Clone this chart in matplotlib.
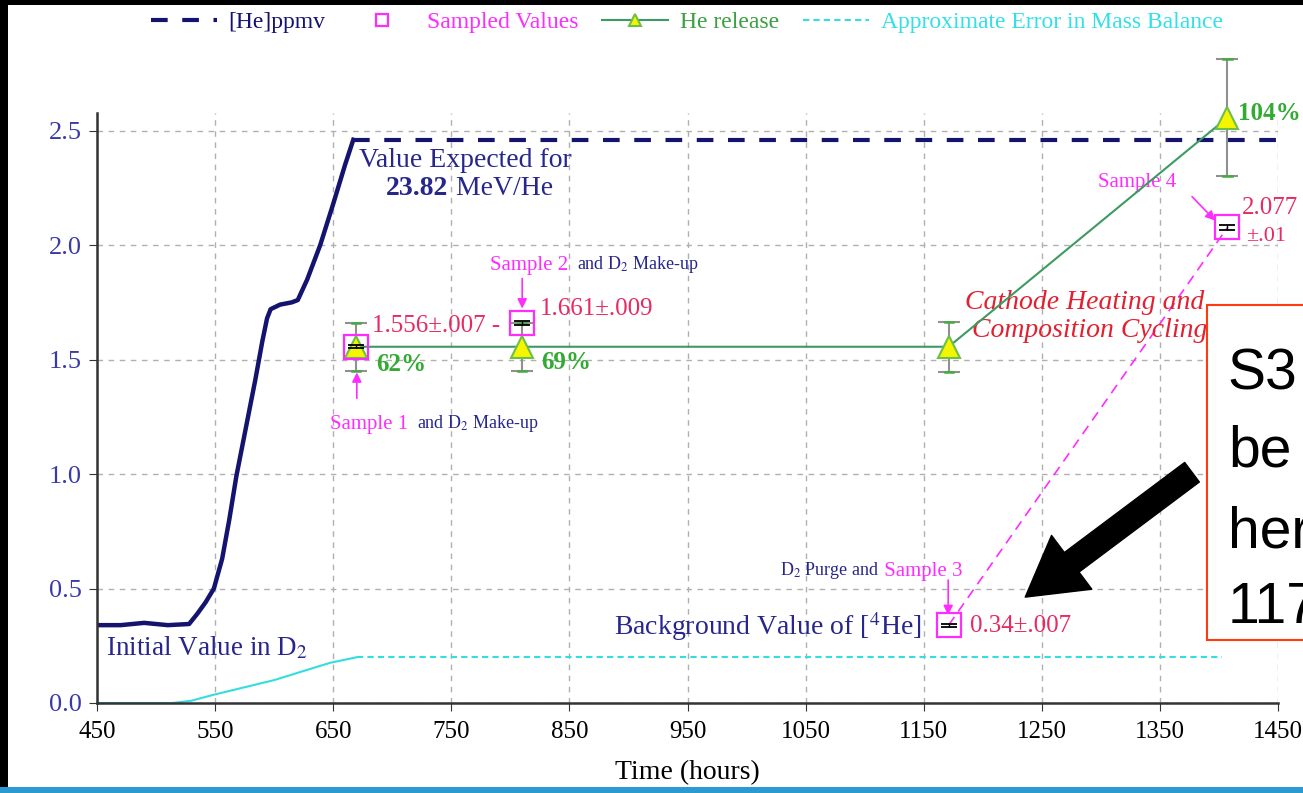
import matplotlib
matplotlib.use("Agg")
import matplotlib.pyplot as plt
from matplotlib.patches import Rectangle

plt.rcParams['font.family'] = ['Liberation Serif', 'DejaVu Serif']
plt.rcParams['mathtext.fontset'] = 'stix'

# [He]ppmv trace (hours, ppmv)
he_t = [450, 470, 490, 510, 528, 535, 542, 549, 556, 562, 568, 576, 584,
        590, 594, 597, 605, 615, 620, 628, 639, 650, 660, 667]
he_v = [0.34, 0.34, 0.35, 0.34, 0.345, 0.39, 0.44, 0.50, 0.63, 0.80, 0.99,
        1.20, 1.41, 1.58, 1.68, 1.72, 1.74, 1.75, 1.76, 1.85, 2.00, 2.18,
        2.35, 2.46]
expected_t = [667, 1450]
expected_v = [2.46, 2.46]

# sampled values
samp_t = [669, 810, 1171, 1407]
samp_v = [1.556, 1.661, 0.34, 2.077]
samp_err = [0.007, 0.009, 0.007, 0.01]

# He release
rel_t = [669, 810, 1171, 1407]
rel_v = [1.556, 1.556, 1.556, 2.557]
rel_err = [0.105, 0.105, 0.11, 0.255]
rel_pct = ['62%', '69%', None, '104%']

# approximate error in mass balance
err_t = [450, 514, 530, 548, 600, 647, 670]
err_v = [0.0, 0.0, 0.01, 0.035, 0.10, 0.175, 0.20]
err_flat_t = [670, 1402]
err_flat_v = [0.20, 0.20]

NAVY = '#14146e'
MAG = '#ff2cff'
GREEN = '#3d9a62'
CRIM = '#e62a62'
TXTB = '#26268c'

fig = plt.figure(figsize=(13.03, 7.93), dpi=100)
ax = fig.add_axes([0.0744, 0.1135, 0.9066, 0.744])

ax.plot(he_t, he_v, color=NAVY, lw=3.2)
l_he, = ax.plot(expected_t, expected_v, color=NAVY, lw=3, ls=(0, (4, 3.5)),
                label='[He]ppmv')

ax.plot(err_t, err_v, color='#33dde0', lw=1.5)
l_err, = ax.plot(err_flat_t, err_flat_v, color='#33dde0', lw=1.5,
                 ls=(0, (3, 2)), label='Approximate Error in Mass Balance')

ax.errorbar(rel_t, rel_v, yerr=rel_err, fmt='none', ecolor='#909090',
            elinewidth=1.5, capsize=8, capthick=1.5, clip_on=False, zorder=3)
for t, v, e in zip(rel_t, rel_v, rel_err):
    ax.plot([t - 3.5, t + 3.5], [v + e, v + e], color='#44aa44', lw=1.8,
            clip_on=False, zorder=3)
    ax.plot([t - 3.5, t + 3.5], [v - e, v - e], color='#44aa44', lw=1.8,
            clip_on=False, zorder=3)
l_rel, = ax.plot(rel_t, rel_v, color=GREEN, lw=1.5, marker='^', ms=16,
                 mfc='#f5f500', mec='#6cc04a', mew=1.5, clip_on=False,
                 zorder=4, label='He release')

ax.plot(samp_t[2:], samp_v[2:], color=MAG, lw=1.2, ls=(0, (6, 4)), zorder=2)
l_samp, = ax.plot(samp_t, samp_v, ls='none', marker='s', ms=17, mfc='none',
                  mec=MAG, mew=1.6, zorder=5, label='Sampled Values')
ax.errorbar(samp_t, samp_v, yerr=samp_err, fmt='none', ecolor='black',
            elinewidth=1, capsize=6, capthick=1.3, zorder=6)

pct_x = [686, 826, None, 1416]
pct_y = [1.479, 1.488, None, 2.574]
for p, x, y in zip(rel_pct, pct_x, pct_y):
    if p is None:
        continue
    ax.text(x, y, p, color='#33aa33', fontsize=18, fontweight='bold',
            va='center', clip_on=False)

ax.set_xlim(450, 1450)
ax.set_ylim(0, 2.577)
ax.set_xticks(range(450, 1451, 100))
ax.set_yticks([0, 0.5, 1.0, 1.5, 2.0, 2.5])
ax.set_yticklabels(['0.0', '0.5', '1.0', '1.5', '2.0', '2.5'])
ax.tick_params(axis='x', labelsize=18, length=6, color='#333333',
               labelcolor='black', pad=7)
ax.tick_params(axis='y', labelsize=19, length=6, color='#333333',
               labelcolor='#3a3aa8', pad=5)
for s in ['top', 'right']:
    ax.spines[s].set_visible(False)
for s in ['left', 'bottom']:
    ax.spines[s].set_color('#333333')
    ax.spines[s].set_linewidth(1.8)
ax.grid(True, color='#b0b0b0', ls=(0, (4, 4)), lw=1)
ax.set_xlabel('Time (hours)', fontsize=20, labelpad=12)

# annotations
ax.text(672, 2.37, 'Value Expected for', color=TXTB, fontsize=20, va='center')
t1 = ax.text(695, 2.248, '23.82', color=TXTB, fontsize=20, va='center',
             fontweight='bold')
ax.annotate(' MeV/He', xy=(1, 0), xycoords=t1, va='bottom', color=TXTB,
            fontsize=20)
ax.text(458, 0.24, 'Initial Value in D$_2$', color=TXTB, fontsize=19.5,
        va='center')
ax.text(683, 1.645, '1.556\u00b1.007 -', color=CRIM, fontsize=18, va='center')
ax.text(825, 1.723, '1.661\u00b1.009', color=CRIM, fontsize=18, va='center')
ax.text(1189, 0.336, '0.34\u00b1.007', color=CRIM, fontsize=18, va='center')
ax.text(1419, 2.16, '2.077', color=CRIM, fontsize=18, va='center',
        clip_on=False)
ax.text(1423, 2.037, '\u00b1.01', color=CRIM, fontsize=16, va='center',
        clip_on=False)
ax.text(888, 0.336, 'Background Value of [$^4$He]', color=TXTB, fontsize=20,
        va='center')

s2 = ax.text(783, 1.911, 'Sample 2', color=MAG, fontsize=15, va='center')
ax.annotate('  and D$_2$ Make-up', xy=(1, 0), xycoords=s2, va='bottom',
            color=TXTB, fontsize=13)
s1 = ax.text(647, 1.217, 'Sample 1', color=MAG, fontsize=15, va='center')
ax.annotate('  and D$_2$ Make-up', xy=(1, 0), xycoords=s1, va='bottom',
            color=TXTB, fontsize=13)
p3 = ax.text(1028, 0.58, 'D$_2$ Purge and', color=TXTB, fontsize=13,
             va='center')
ax.annotate(' Sample 3', xy=(1, 0), xycoords=p3, va='bottom', color=MAG,
            fontsize=15)
ax.text(1297, 2.273, 'Sample 4', color=MAG, fontsize=15, va='center')

arrow = dict(arrowstyle='-|>', color=MAG, lw=1.2, mutation_scale=14,
             shrinkA=0, shrinkB=0)
ax.annotate('', xy=(810, 1.723), xytext=(810, 1.854), arrowprops=arrow)
ax.annotate('', xy=(670, 1.444), xytext=(670, 1.331), arrowprops=arrow)
ax.annotate('', xy=(1170.6, 0.384), xytext=(1170.6, 0.537), arrowprops=arrow)
ax.annotate('', xy=(1396.6, 2.107), xytext=(1377, 2.212), arrowprops=arrow)

ax.text(1185, 1.75, 'Cathode Heating and', color='#e22030', fontsize=20,
        style='italic', va='center')
ax.text(1191, 1.627, 'Composition Cycling', color='#e22030', fontsize=20,
        style='italic', va='center')

# overlay box and arrow
fig.patches.append(Rectangle((0.9263, 0.193), 0.1, 0.4224,
                             transform=fig.transFigure, fc='white',
                             ec='#ff3a10', lw=1.5, zorder=10))
for txt, yb in zip(['S3', 'be', 'her', '117'], [390, 467, 547, 623]):
    fig.text(0.9424, 1 - yb / 793, txt, family='Liberation Sans',
             fontsize=41, va='baseline', zorder=11)
ax.annotate('', xy=(1235.8, 0.4625), xytext=(1377, 1.008),
            arrowprops=dict(arrowstyle='simple,head_width=2.2,head_length=1.9,tail_width=0.8',
                            color='black', mutation_scale=22, shrinkA=0,
                            shrinkB=0), zorder=12)

# legend
fig.legend(handles=[l_he, l_samp, l_rel, l_err], loc='center',
           bbox_to_anchor=(0.527, 0.972), ncol=4, frameon=False, fontsize=17,
           labelcolor=[NAVY, MAG, '#3aa040', '#33e0e8'], handlelength=2.8,
           columnspacing=1.0, handletextpad=0.5, markerscale=0.5)

# frame bars
fig.patches.append(Rectangle((0, 0), 0.006, 1, transform=fig.transFigure,
                             fc='black', ec='none'))
fig.patches.append(Rectangle((0, 0.994), 1, 0.006, transform=fig.transFigure,
                             fc='black', ec='none'))
fig.patches.append(Rectangle((0, 0), 1, 0.008, transform=fig.transFigure,
                             fc='#2a9ad0', ec='none'))

fig.savefig('out.png', dpi=100)
